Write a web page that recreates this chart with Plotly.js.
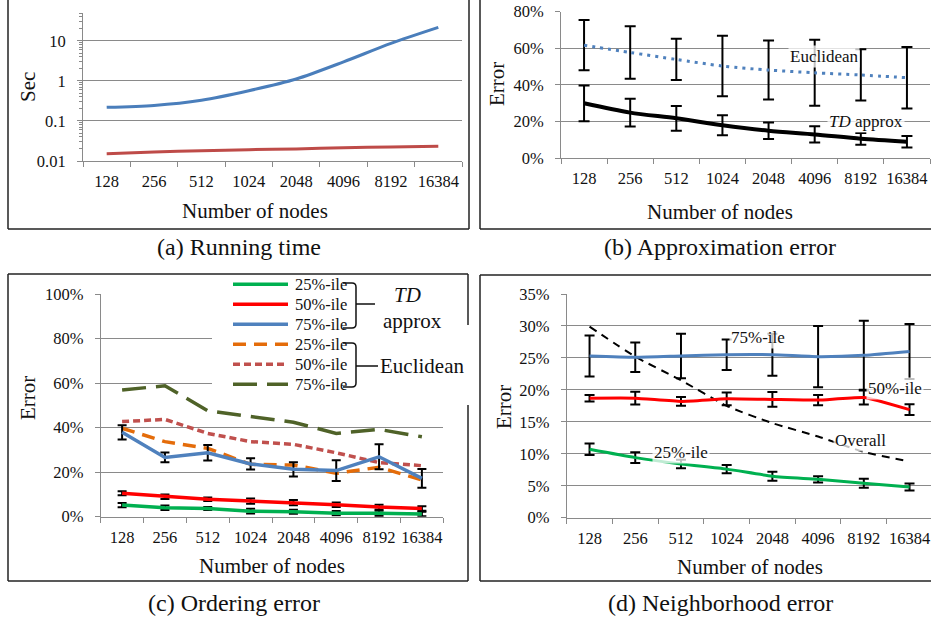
<!DOCTYPE html>
<html><head><meta charset="utf-8">
<script src="https://cdn.plot.ly/plotly-3.0.1.min.js"></script>
<style>html,body{margin:0;padding:0;background:#fff}</style>
</head><body><div id="chart" style="width:931px;height:620px"></div>
<script>
// ---------- data ----------
const nodes = ["128","256","512","1024","2048","4096","8192","16384"];
// (a) Running time (sec)
const runTimeBlue = [0.22, 0.245, 0.33, 0.57, 1.12, 3.0, 8.7, 21.8];
const runTimeRed  = [0.0152, 0.0168, 0.0181, 0.0192, 0.0199, 0.0215, 0.0224, 0.0233];
const yTicksA = [0.01, 0.1, 1, 10];
const yTickTextA = ["0.01", "0.1", "1", "10"];
// (b) Approximation error (%)
const approxEuclid    = [61.7, 57.7, 53.9, 50.3, 48.1, 46.6, 45.4, 43.9];
const approxEuclidErr = [13.7, 14.3, 11.3, 16.6, 16.1, 18.0, 14.0, 16.8];
const approxTD        = [29.9, 24.8, 21.7, 17.9, 14.9, 12.9, 10.5, 8.9];
const approxTDErr     = [9.8, 7.6, 6.8, 5.5, 4.5, 4.4, 3.2, 3.1];
// (c) Ordering error (%)
const orderTD25    = [5.2, 4.0, 3.7, 2.5, 2.2, 1.6, 1.5, 1.2];
const orderTD25Err = [1.0, 1.0, 0.7, 1.1, 0.9, 1.0, 1.2, 1.0];
const orderTD50    = [10.5, 9.0, 7.8, 7.0, 6.3, 5.4, 4.3, 3.7];
const orderTD50Err = [0.9, 1.0, 0.8, 1.2, 1.2, 1.0, 1.1, 1.0];
const orderTD75    = [37.9, 26.6, 28.7, 23.7, 21.3, 20.7, 26.9, 17.2];
const orderTD75Err = [3.2, 2.2, 3.5, 2.5, 3.2, 4.7, 5.6, 4.2];
const orderEu25    = [39.7, 33.7, 30.7, 23.5, 23.2, 19.5, 22.2, 16.5];
const orderEu50    = [42.7, 43.7, 37.4, 33.7, 32.5, 28.7, 24.3, 22.9];
const orderEu75    = [56.9, 58.8, 47.6, 44.9, 42.4, 37.4, 39.2, 35.9];
const legendLabels = ["25%-ile", "50%-ile", "75%-ile"];
// (d) Neighborhood error (%)
const neighTD75    = [25.3, 25.1, 25.3, 25.5, 25.5, 25.2, 25.4, 26.0];
const neighTD75Err = [3.2, 2.3, 3.5, 2.4, 3.3, 4.8, 5.4, 4.3];
const neighTD50    = [18.7, 18.7, 18.2, 18.6, 18.5, 18.4, 18.8, 16.9];
const neighTD50Err = [0.5, 1.0, 0.7, 1.0, 1.15, 0.8, 1.1, 0.85];
const neighTD25    = [10.7, 9.4, 8.4, 7.6, 6.5, 6.0, 5.4, 4.8];
const neighTD25Err = [0.9, 0.85, 0.65, 0.65, 0.7, 0.5, 0.7, 0.55];
const neighOverall = [29.9, 25.2, 21.5, 17.5, 14.8, 12.7, 10.3, 8.8];

// ---------- helpers ----------
const W = 931, H = 620;
const px = x => x / W, py = y => 1 - y / H;
const FONT = "Liberation Serif";
const TXT = "#111";
const GRAY = "#8a8a8a";
const BORDER = "#222";

function xax(domain, anchor, range) {
  return {domain, anchor, type: 'category', categoryorder: 'array', categoryarray: nodes,
    range: range || [-0.5, 7.5], tickson: 'boundaries', ticks: 'outside', ticklen: 5,
    tickcolor: GRAY, tickwidth: 1, showline: true, linecolor: GRAY, linewidth: 1,
    showgrid: false, zeroline: false, ticklabelstandoff: 5, tickangle: 0,
    tickfont: {family: FONT, size: 16.5, color: TXT}, fixedrange: true};
}
function yax(domain, anchor, range, dtick) {
  return {domain, anchor, range, dtick, tick0: 0, ticksuffix: '%', ticks: 'outside', ticklen: 5,
    tickcolor: GRAY, tickwidth: 1, showline: true, linecolor: GRAY, linewidth: 1,
    showgrid: true, gridcolor: GRAY, gridwidth: 1, zeroline: false, ticklabelstandoff: 8,
    tickfont: {family: FONT, size: 16.5, color: TXT}, fixedrange: true};
}
function errBar(arr, w) {
  return {type: 'data', array: arr, visible: true, color: '#000', thickness: 2, width: w || 5};
}

// ---------- traces ----------
const traces = [
  // (a)
  {x: nodes, y: runTimeBlue, xaxis: 'x', yaxis: 'y', mode: 'lines',
   line: {color: '#4A7EBB', width: 3, shape: 'spline', smoothing: 0.8}},
  {x: nodes, y: runTimeRed, xaxis: 'x', yaxis: 'y', mode: 'lines',
   line: {color: '#BE4B48', width: 3, shape: 'spline', smoothing: 0.8}},
  // (b)
  {x: nodes, y: approxEuclid, xaxis: 'x2', yaxis: 'y2', mode: 'lines',
   line: {color: '#4F81BD', width: 3, dash: '3px,5px', shape: 'spline', smoothing: 0.8},
   error_y: errBar(approxEuclidErr, 5.5)},
  {x: nodes, y: approxTD, xaxis: 'x2', yaxis: 'y2', mode: 'lines',
   line: {color: '#000', width: 4, shape: 'spline', smoothing: 0.8},
   error_y: errBar(approxTDErr, 5.5)},
  // (c)
  {x: nodes, y: orderEu75, xaxis: 'x3', yaxis: 'y3', mode: 'lines',
   line: {color: '#4F6228', width: 3.5, dash: '24px,10px'}},
  {x: nodes, y: orderEu50, xaxis: 'x3', yaxis: 'y3', mode: 'lines',
   line: {color: '#C0504D', width: 3.5, dash: '7px,4px'}},
  {x: nodes, y: orderEu25, xaxis: 'x3', yaxis: 'y3', mode: 'lines',
   line: {color: '#E46C0A', width: 3.5, dash: '13px,8px'}},
  {x: nodes, y: orderTD75, xaxis: 'x3', yaxis: 'y3', mode: 'lines',
   line: {color: '#4F81BD', width: 3.5}, error_y: errBar(orderTD75Err, 4.5)},
  {x: nodes, y: orderTD50, xaxis: 'x3', yaxis: 'y3', mode: 'lines',
   line: {color: '#FF0000', width: 3.5}, error_y: errBar(orderTD50Err, 4.5)},
  {x: nodes, y: orderTD25, xaxis: 'x3', yaxis: 'y3', mode: 'lines',
   line: {color: '#00B050', width: 3.5}, error_y: errBar(orderTD25Err, 4.5)},
  // (d)
  {x: nodes, y: neighOverall, xaxis: 'x4', yaxis: 'y4', mode: 'lines',
   line: {color: '#000', width: 2, dash: '8px,6px', shape: 'spline', smoothing: 0.6}},
  {x: nodes, y: neighTD75, xaxis: 'x4', yaxis: 'y4', mode: 'lines',
   line: {color: '#4F81BD', width: 3, shape: 'spline', smoothing: 0.6}, error_y: errBar(neighTD75Err, 5)},
  {x: nodes, y: neighTD50, xaxis: 'x4', yaxis: 'y4', mode: 'lines',
   line: {color: '#FF0000', width: 3, shape: 'spline', smoothing: 0.4}, error_y: errBar(neighTD50Err, 5)},
  {x: nodes, y: neighTD25, xaxis: 'x4', yaxis: 'y4', mode: 'lines',
   line: {color: '#00B050', width: 3, shape: 'spline', smoothing: 0.6}, error_y: errBar(neighTD25Err, 5)}
];
traces.forEach(t => { t.showlegend = false; t.hoverinfo = 'skip'; });

// ---------- axes ----------
const minorA = [];
yTicksA.forEach(d => { for (let k = 2; k <= 9; k++) { if (k * d <= 50) minorA.push(k * d); } });

const layout = {
  width: W, height: H, margin: {l: 0, r: 0, t: 0, b: 0},
  paper_bgcolor: '#fff', plot_bgcolor: 'rgba(0,0,0,0)', showlegend: false,
  font: {family: FONT, color: TXT},
  xaxis: xax([px(83), px(462)], 'y'),
  yaxis: Object.assign(yax([py(161), py(13)], 'x', [-2, Math.log10(50)]), {
    type: 'log', dtick: undefined, tick0: undefined, ticksuffix: '', tickmode: 'array',
    tickvals: yTicksA, ticktext: yTickTextA,
    minor: {tickmode: 'array', tickvals: minorA, ticks: 'outside', ticklen: 3, tickcolor: GRAY, showgrid: false}}),
  xaxis2: xax([px(561), px(930)], 'y2'),
  yaxis2: yax([py(158), py(11.7)], 'x2', [0, 80], 20),
  xaxis3: xax([px(100.7), px(443.3)], 'y3'),
  yaxis3: yax([py(516.7), py(294)], 'x3', [0, 100], 20),
  xaxis4: xax([px(566.7), 1], 'y4', [-0.5, 7.47]),
  yaxis4: yax([py(517.7), py(294)], 'x4', [0, 35], 5),
  shapes: [], annotations: []
};

// ---------- decorations (paper pixel coordinates) ----------
function line(x0, y0, x1, y1, color, width, dash) {
  layout.shapes.push({type: 'line', xref: 'paper', yref: 'paper', x0: px(x0), y0: py(y0), x1: px(x1), y1: py(y1),
    line: {color: color, width: width, dash: dash || 'solid'}, layer: 'above'});
}
function rect(x0, y0, x1, y1, fill) {
  layout.shapes.push({type: 'rect', xref: 'paper', yref: 'paper', x0: px(x0), y0: py(y0), x1: px(x1), y1: py(y1),
    line: {width: 0}, fillcolor: fill, layer: 'above'});
}
function brace(xl, yTop, yTip, yBot, xTipEnd) {
  const xv = xl + 13, r = 4;
  const p = (x, y) => px(x).toFixed(5) + ',' + py(y).toFixed(5);
  const d = 'M' + p(xl, yTop) + ' L' + p(xv - r, yTop) + ' Q' + p(xv, yTop) + ' ' + p(xv, yTop + r) +
    ' L' + p(xv, yBot - r) + ' Q' + p(xv, yBot) + ' ' + p(xv - r, yBot) + ' L' + p(xl, yBot) +
    ' M' + p(xv, yTip) + ' L' + p(xTipEnd, yTip);
  layout.shapes.push({type: 'path', xref: 'paper', yref: 'paper', path: d, line: {color: '#111', width: 1.5}, layer: 'above'});
}
function ann(text, x, y, size, opts) {
  layout.annotations.push(Object.assign({text: text, xref: 'paper', yref: 'paper', x: px(x), y: py(y),
    showarrow: false, xanchor: 'center', yanchor: 'middle', font: {family: FONT, size: size, color: TXT}}, opts || {}));
}

// legend background in (c) (covers grid lines)
rect(212, 276, 474, 405, '#fff');

// panel borders
line(8, -2, 8, 229, BORDER, 1.5); line(8, 229, 469, 229, BORDER, 1.5); line(469, -2, 469, 229, BORDER, 1.5);
line(480, -2, 480, 229, BORDER, 1.5); line(480, 229, 935, 229, BORDER, 1.5);
line(8, 274, 468, 274, BORDER, 1.5); line(8, 274, 8, 581, BORDER, 1.5); line(8, 581, 468, 581, BORDER, 1.5);
line(468, 274, 468, 325, BORDER, 1.5); line(468, 405, 468, 581, BORDER, 1.5);
line(480, 275, 935, 275, BORDER, 1.5); line(480, 275, 480, 581, BORDER, 1.5); line(480, 581, 935, 581, BORDER, 1.5);

// legend of (c)
const legendStyles = [
  {color: '#00B050', dash: 'solid'}, {color: '#FF0000', dash: 'solid'}, {color: '#4F81BD', dash: 'solid'},
  {color: '#E46C0A', dash: '13px,8px'}, {color: '#C0504D', dash: '7px,4px'}, {color: '#4F6228', dash: '24px,10px'}
];
legendStyles.forEach((s, i) => {
  const y = 284.3 + 20 * i;
  line(233, y, 288, y, s.color, 3.5, s.dash);
  ann(legendLabels[i % 3], 293, y, 16.5, {xanchor: 'left'});
});
brace(343, 283, 304, 328, 375);
brace(343, 343, 366, 387, 378);
ann('<i>TD</i>', 407, 295, 21);
ann('approx', 412, 321, 21);
ann('Euclidean', 378, 366, 21, {xanchor: 'left'});

// axis titles
ann('Sec', 28, 87, 21, {textangle: -90});
ann('Number of nodes', 255, 211, 21);
ann('Error', 497, 84, 21, {textangle: -90});
ann('Number of nodes', 720, 212, 21);
ann('Error', 28, 398, 21, {textangle: -90});
ann('Number of nodes', 272, 566, 21);
ann('Error', 504, 407, 21, {textangle: -90});
ann('Number of nodes', 750, 567, 21);

// captions
ann('(a) Running time', 239, 247, 24);
ann('(b) Approximation error', 720, 247, 24);
ann('(c) Ordering error', 234, 603, 24);
ann('(d) Neighborhood error', 720, 603, 24);

// in-plot labels
const LBG = 'rgba(255,255,255,0.75)';
ann('Euclidean', 824, 56, 17, {bgcolor: LBG});
ann('<i>TD</i> approx', 866, 121, 17, {bgcolor: LBG});
ann('75%-ile', 758, 337, 17, {bgcolor: LBG});
ann('50%-ile', 895, 388, 17, {bgcolor: LBG});
ann('25%-ile', 681, 452, 17, {bgcolor: LBG});
ann('Overall', 860, 440, 17, {bgcolor: LBG});

Plotly.newPlot('chart', traces, layout, {staticPlot: true, displayModeBar: false});
</script></body></html>
